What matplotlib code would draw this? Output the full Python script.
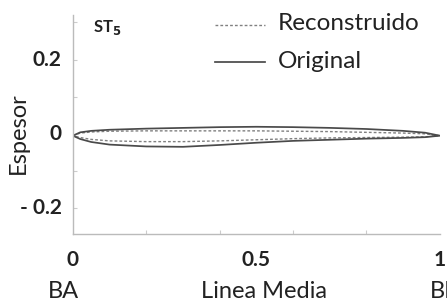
import numpy as np
import matplotlib.pyplot as plt
from matplotlib.lines import Line2D

# perfil original (linea continua)
x_orig = [0.0, 0.02, 0.05, 0.1, 0.2, 0.3, 0.4, 0.5, 0.6, 0.7, 0.8, 0.9, 0.96, 1.0]
up_orig = [-0.005, 0.004, 0.008, 0.011, 0.014, 0.016, 0.018, 0.019, 0.018, 0.016, 0.013, 0.008, 0.003, -0.005]
lo_orig = [-0.005, -0.014, -0.022, -0.029, -0.034, -0.035, -0.030, -0.024, -0.019, -0.016, -0.013, -0.011, -0.009, -0.005]

# perfil reconstruido (linea discontinua)
x_rec = [0.0, 0.02, 0.05, 0.1, 0.2, 0.3, 0.4, 0.5, 0.6, 0.7, 0.8, 0.9, 0.96, 1.0]
up_rec = [-0.005, 0.002, 0.005, 0.007, 0.008, 0.008, 0.008, 0.008, 0.007, 0.006, 0.004, 0.002, 0.0, -0.005]
lo_rec = [-0.005, -0.010, -0.015, -0.019, -0.021, -0.021, -0.019, -0.016, -0.013, -0.011, -0.010, -0.009, -0.008, -0.005]

xticks = [0, 0.5, 1]
xtick_labels = ['0', '0.5', '1']
yticks = [0.2, 0, -0.2]
ytick_labels = ['0.2', '0', '- 0.2']

plt.rcParams['font.family'] = ['Lato', 'DejaVu Sans']
txt = '#222222'
c_rec = '#808080'
c_orig = '#4a4a4a'

fig = plt.figure(figsize=(4.47, 3.06), dpi=100)
ax = fig.add_axes([0.163, 0.235, 0.821, 0.716])

ax.plot(x_rec + x_rec[::-1], up_rec + lo_rec[::-1], color=c_rec, lw=1.0,
        linestyle=(0, (2, 1.5)))
ax.plot(x_orig + x_orig[::-1], up_orig + lo_orig[::-1], color=c_orig, lw=1.25)

ax.set_xlim(0, 1)
ax.set_ylim(-0.27, 0.32)

for s in ['top', 'right']:
    ax.spines[s].set_visible(False)
for s in ['left', 'bottom']:
    ax.spines[s].set_color('#bbbbbb')
    ax.spines[s].set_linewidth(1.0)

ax.set_xticks(np.arange(0.2, 1.0, 0.2))
ax.set_xticklabels([])
ax.set_yticks([0.3, 0.2, 0.1, 0, -0.1, -0.2])
ax.set_yticklabels([])
ax.tick_params(length=3, color='#cccccc', direction='in')

# etiquetas de ejes
for v, lab in zip(xticks, xtick_labels):
    ax.text(v, -0.34, lab, ha='center', va='center', fontsize=15,
            fontweight='bold', color=txt, clip_on=False)
for v, lab in zip(yticks, ytick_labels):
    ax.text(-0.03, v, lab, ha='right', va='center', fontsize=15,
            fontweight='bold', color=txt, clip_on=False)

ax.text(-0.025, -0.425, 'BA', ha='center', va='center', fontsize=17, color=txt, clip_on=False)
ax.text(0.52, -0.425, 'Linea Media', ha='center', va='center', fontsize=17, color=txt, clip_on=False)
fig.text(430 / 447, 1 - 292 / 306, 'BF', ha='left', va='center', fontsize=17, color=txt)

fig.text(0.04, 0.565, 'Espesor', rotation=90, ha='center', va='center', fontsize=17, color=txt)

ax.text(0.055, 0.285, r'ST$_\mathbf{5}$', ha='left', va='center', fontsize=12,
        fontweight='bold', color=txt)

# leyenda manual
fig.add_artist(Line2D([215 / 447, 265 / 447], [1 - 25 / 306] * 2, color=c_rec, lw=1.0,
                      linestyle=(0, (2, 1.5)), transform=fig.transFigure))
fig.add_artist(Line2D([215 / 447, 265 / 447], [1 - 62 / 306] * 2, color=c_orig, lw=1.25,
                      transform=fig.transFigure))
fig.text(278 / 447, 1 - 24 / 306, 'Reconstruido', ha='left', va='center', fontsize=17.5, color=txt)
fig.text(278 / 447, 1 - 62 / 306, 'Original', ha='left', va='center', fontsize=17.5, color=txt)

fig.savefig('out.png', dpi=100)
